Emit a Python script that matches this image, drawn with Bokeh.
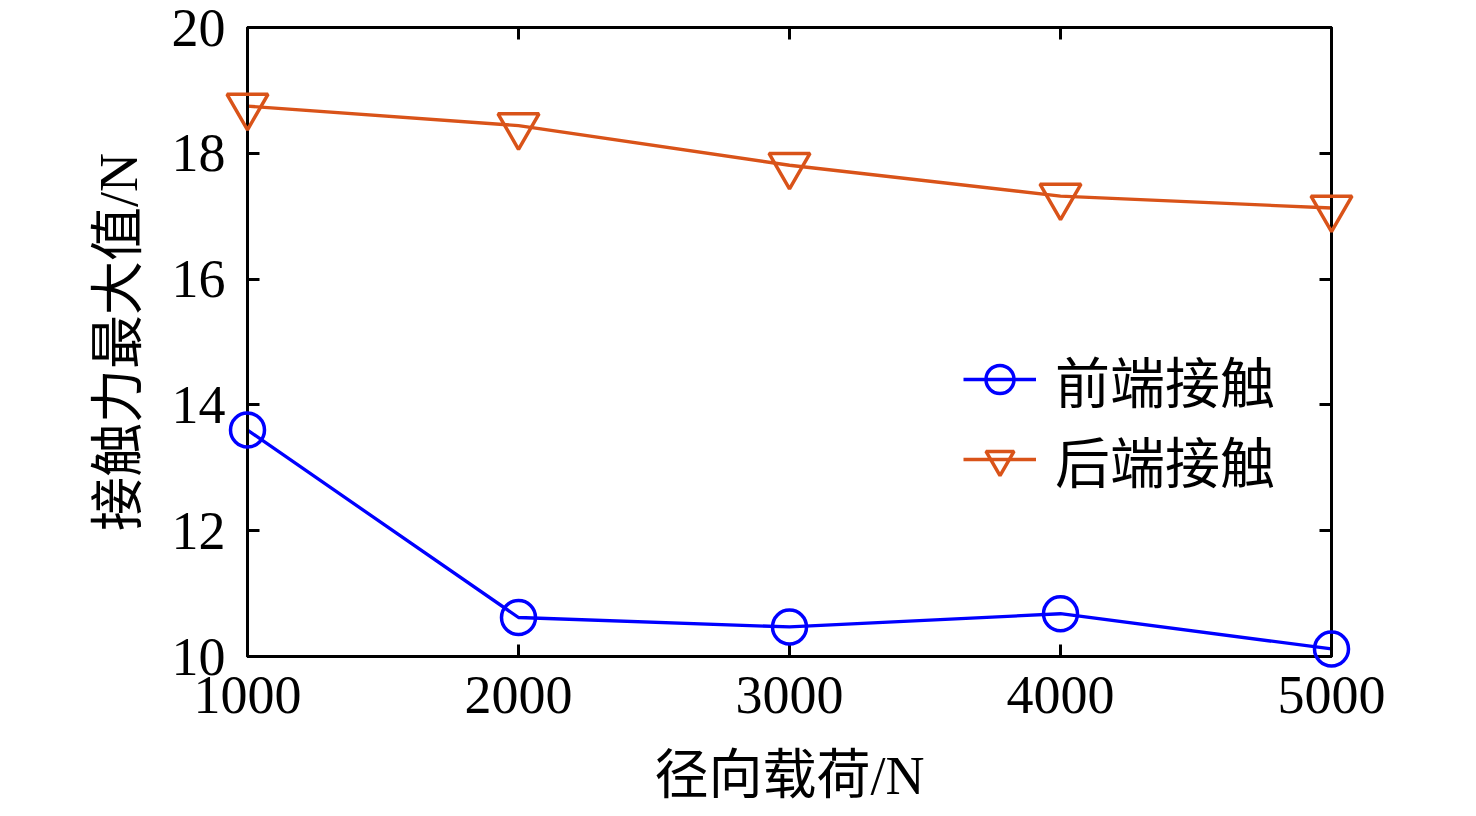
from bokeh.plotting import figure
from bokeh.models import LinearAxis, Range1d, FixedTicker, Legend, LegendItem
from bokeh.embed import file_html
from bokeh.resources import INLINE

loads = [1000, 2000, 3000, 4000, 5000]
front = [13.60, 10.62, 10.47, 10.68, 10.12]
rear = [18.75, 18.44, 17.81, 17.32, 17.13]
x_ticks = [1000, 2000, 3000, 4000, 5000]
y_ticks = [10, 12, 14, 16, 18, 20]
front_name = "前端接触"
rear_name = "后端接触"
x_label = "径向载荷/N"
y_label = "接触力最大值/N"

FONT = "Liberation Serif, Noto Sans CJK SC"
BLUE = "#0000ff"
ORANGE = "#d95319"

W, H = 1460, 808
p = figure(width=W, height=H, output_backend="svg", toolbar_location=None,
           x_range=Range1d(1000, 5000), y_range=Range1d(10, 20),
           min_border_left=247, min_border_right=W - 1331,
           min_border_top=27, min_border_bottom=H - 657)
p.xgrid.visible = False
p.ygrid.visible = False
p.outline_line_color = "black"
p.outline_line_width = 3
p.background_fill_color = "white"
p.border_fill_color = "white"

def style(ax, labels=True):
    ax.axis_line_color = "black"
    ax.axis_line_width = 3
    ax.major_tick_in = 12
    ax.major_tick_out = 0
    ax.major_tick_line_width = 3
    ax.minor_tick_line_color = None
    ax.major_label_text_font = FONT
    ax.major_label_text_font_size = "54px"
    ax.major_label_text_color = "black"
    ax.axis_label_text_font = FONT
    ax.axis_label_text_font_size = "54px"
    ax.axis_label_text_font_style = "normal"
    ax.axis_label_text_color = "black"
    if not labels:
        ax.major_label_text_font_size = "0px"
        ax.major_label_text_color = None

p.xaxis.ticker = FixedTicker(ticks=x_ticks)
p.yaxis.ticker = FixedTicker(ticks=y_ticks)
style(p.xaxis[0]); style(p.yaxis[0])
p.xaxis.axis_label = x_label
p.yaxis.axis_label = y_label
p.xaxis.major_label_standoff = 20
p.yaxis.major_label_standoff = 22
p.xaxis.axis_label_standoff = 30
p.yaxis.axis_label_standoff = 20

top = LinearAxis(ticker=FixedTicker(ticks=x_ticks))
right = LinearAxis(ticker=FixedTicker(ticks=y_ticks))
style(top, False); style(right, False)
top.major_label_standoff = 0
right.major_label_standoff = 0
p.add_layout(top, "above")
p.add_layout(right, "right")

l1 = p.line(loads, front, line_color=BLUE, line_width=3.3)
m1 = p.scatter(loads, front, marker="circle", size=34, fill_color=None,
               line_color=BLUE, line_width=3.5, level="overlay")
l2 = p.line(loads, rear, line_color=ORANGE, line_width=3.3)
m2 = p.scatter(loads, rear, marker="inverted_triangle", size=41, fill_color=None,
               line_color=ORANGE, line_width=3.5, level="overlay")

legend = Legend(items=[LegendItem(label=front_name, renderers=[l1, m1]),
                       LegendItem(label=rear_name, renderers=[l2, m2])],
                location=(716, 157))
legend.border_line_color = None
legend.background_fill_alpha = 0
legend.padding = 0
legend.margin = 0
try:
    legend.spacing = -5
except Exception:
    legend.spacing = 0
legend.glyph_width = 73
legend.glyph_height = 70
legend.label_height = 70
legend.label_standoff = 19
legend.label_text_font = FONT
legend.label_text_font_size = "55px"
legend.label_text_color = "black"
p.add_layout(legend, "center")

open("out.html", "w").write(file_html(p, INLINE))
